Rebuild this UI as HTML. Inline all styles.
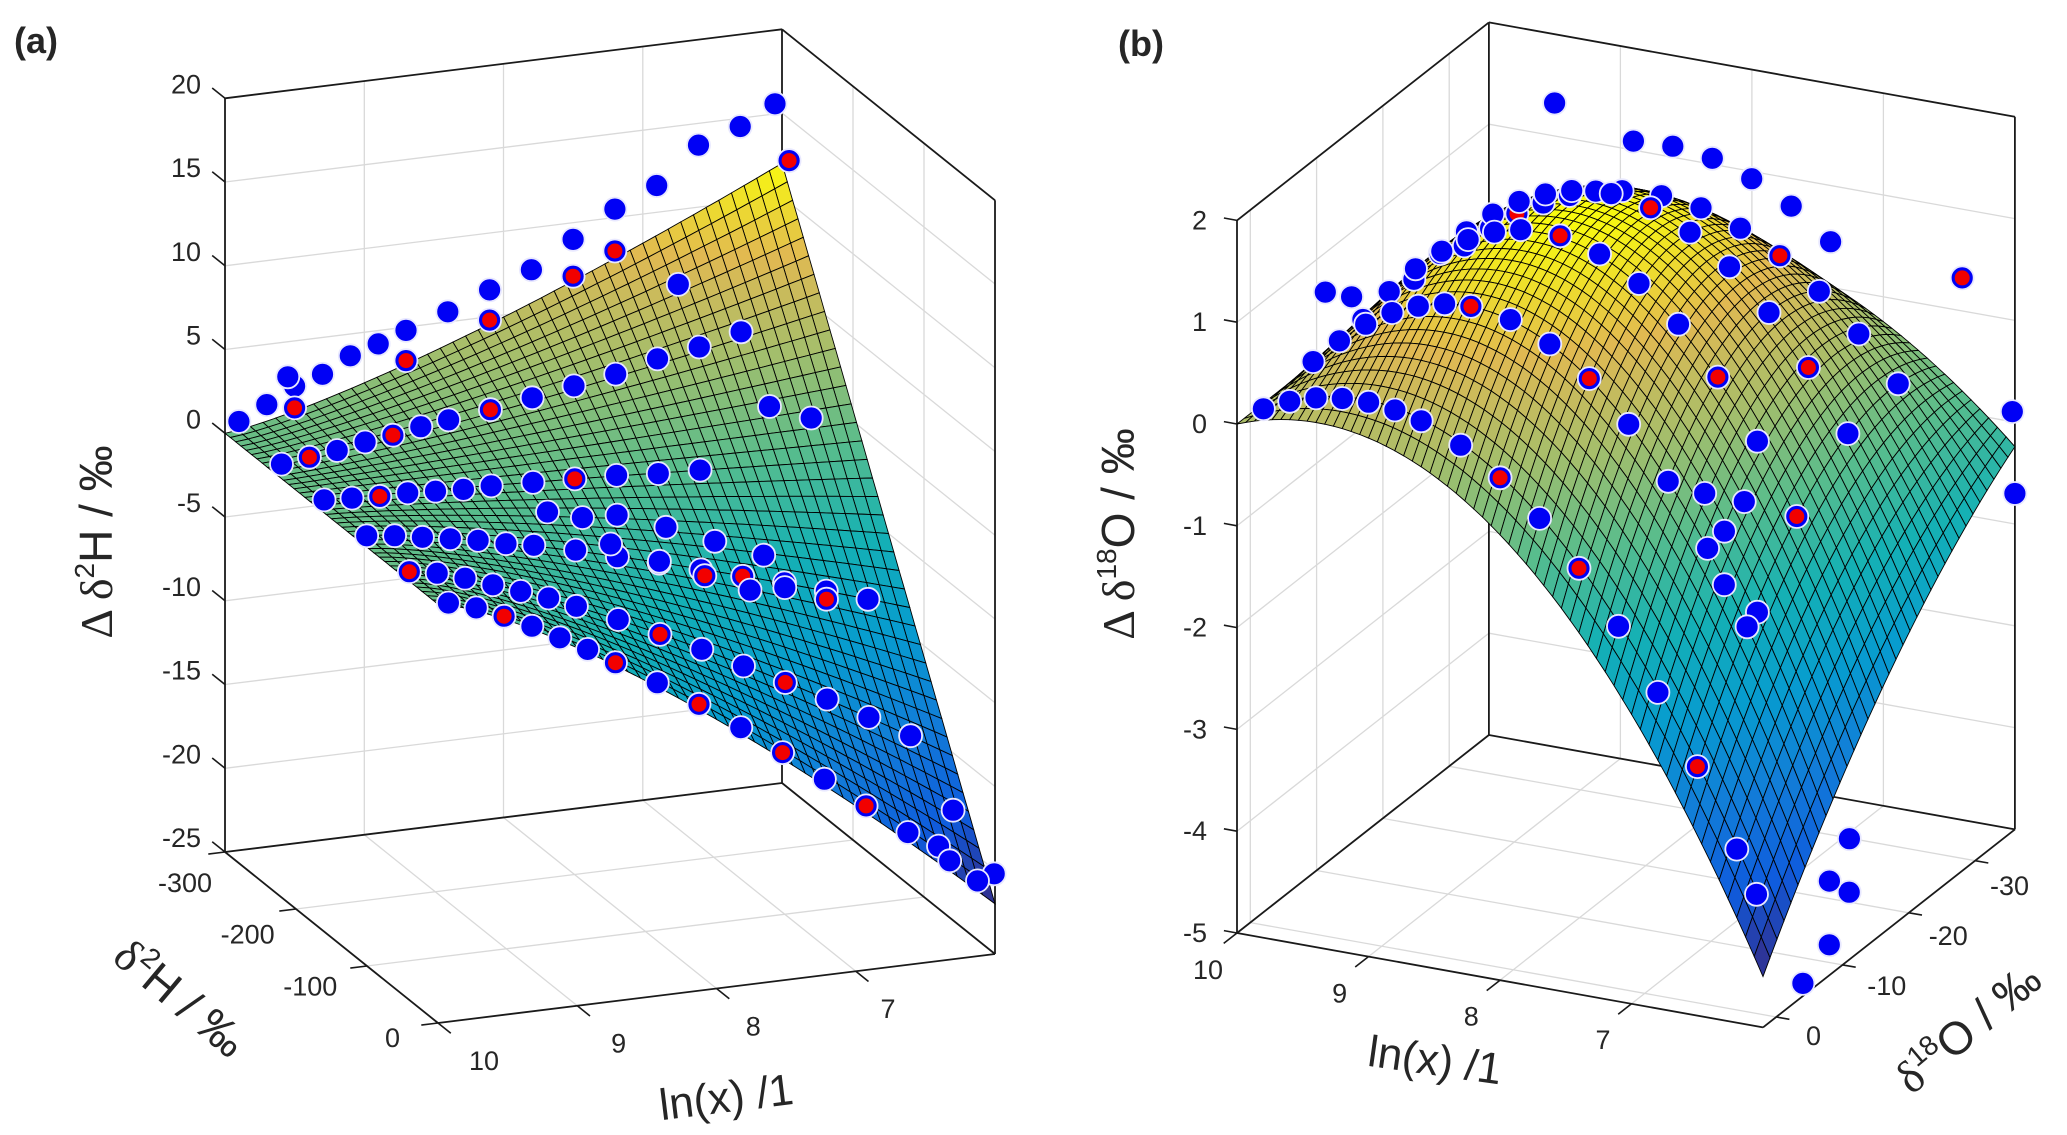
<!DOCTYPE html>
<html><head><meta charset="utf-8">
<style>
html,body{margin:0;padding:0;background:#fff;}
svg{display:block;}
text{font-family:"Liberation Sans",sans-serif;fill:#262626;}
</style></head>
<body>
<svg id="fig" width="2067" height="1135" viewBox="0 0 2067 1135" xmlns="http://www.w3.org/2000/svg">
<g id="panelA"></g>
<g id="panelB"></g>
<text x="14" y="53" font-size="36" font-weight="bold">(a)</text>
<text x="1118" y="56" font-size="36" font-weight="bold">(b)</text>
<text transform="translate(112,542) rotate(-90)" text-anchor="middle" font-size="46"><tspan font-family="Liberation Serif">Δ δ</tspan><tspan font-size="28" dy="-18">2</tspan><tspan dy="18">H / ‰</tspan></text>
<text transform="translate(170,1010) rotate(40)" text-anchor="middle" font-size="46"><tspan font-family="Liberation Serif">δ</tspan><tspan font-size="28" dy="-18">2</tspan><tspan dy="18">H / ‰</tspan></text>
<text transform="translate(728,1112) rotate(-7)" text-anchor="middle" font-size="44">ln(x) /1</text>
<text transform="translate(1134,534) rotate(-90)" text-anchor="middle" font-size="46"><tspan font-family="Liberation Serif">Δ δ</tspan><tspan font-size="28" dy="-18">18</tspan><tspan dy="18">O / ‰</tspan></text>
<text transform="translate(1433,1075) rotate(8)" text-anchor="middle" font-size="44">ln(x) /1</text>
<text transform="translate(1978,1040) rotate(-40)" text-anchor="middle" font-size="46"><tspan font-family="Liberation Serif">δ</tspan><tspan font-size="28" dy="-18">18</tspan><tspan dy="18">O / ‰</tspan></text>
</svg>
<script>
// ---------- Panel (a) data ----------
const aLnTicks=[10,9,8,7];
const aDTicks=[-300,-200,-100,0];
const aZTicks=[20,15,10,5,0,-5,-10,-15,-20,-25];
const aSurfG=[-22,12];      // surface amplitude at front (δ=0) and back (δ=-300)
const aSurfPow=[1.3];
const aLn=[9.9,9.7,9.6,9.5,9.5,9.3,9.1,8.9,8.7,8.7,8.4,8.1,8.1,7.8,7.5,7.5,7.2,7.2,6.9,6.6,6.3,6.05,6.0,
9.9,9.7,9.5,9.3,9.1,8.9,8.7,8.4,8.1,7.8,7.5,7.2,6.9,7.0,6.6,
9.9,9.7,9.5,9.3,9.1,8.9,8.7,8.4,8.1,7.8,7.5,7.2,6.6,6.3,
9.9,9.7,9.5,9.3,9.1,8.9,8.7,8.4,8.1,7.8,7.5,7.2,6.9,6.6,6.3,8.5,8.3,8.0,7.7,7.4,7.1,8.2,7.9,7.6,7.3,7.0,6.7,
9.9,9.7,9.5,9.3,9.1,8.9,8.7,8.4,8.1,7.8,7.5,7.2,6.9,6.6,6.3,6.1,
9.9,9.7,9.5,9.3,9.1,8.9,8.7,8.4,8.1,7.8,7.5,7.2,6.9,6.6,6.3,6.1,6.25,5.98];
const aD=[-300,-300,-290,-300,-300,-300,-300,-300,-300,-300,-300,-300,-300,-300,-300,-300,-300,-300,-300,-300,-300,-300,-290,
-240,-240,-240,-240,-240,-240,-240,-240,-240,-240,-240,-240,-240,-250,-240,
-180,-180,-180,-180,-180,-180,-180,-180,-180,-180,-180,-180,-200,-200,
-120,-120,-120,-120,-120,-120,-120,-120,-120,-120,-120,-120,-120,-120,-120,-140,-130,-140,-130,-120,-110,-110,-100,-95,-90,-100,-100,
-60,-60,-60,-60,-60,-60,-60,-60,-60,-60,-60,-60,-60,-60,-60,-60,
-5,-5,-5,-5,-5,-5,-5,-5,-5,-5,-5,-5,-5,-5,-5,-5,-10,-5];
const aZ=[0.6,1.4,3.3,2.3,1.0,2.8,3.7,4.2,4.8,3.0,5.6,6.6,4.8,7.5,9.0,6.8,10.5,8.0,11.6,13.7,14.5,15.6,12.5,
0.1,0.3,0.5,0.8,1.0,1.3,1.5,1.8,2.2,2.6,3.0,3.6,4.0,7.5,4.6,
0,-0.1,-0.2,-0.2,-0.3,-0.4,-0.4,-0.5,-0.6,-0.7,-0.9,-1.0,1.5,0.5,
-0.1,-0.3,-0.6,-0.9,-1.2,-1.6,-1.9,-2.5,-3.2,-3.9,-4.6,-5.3,-6.0,-6.8,-7.6,-0.8,-1.0,-1.5,-2.2,-3.0,-3.8,-2.0,-3.0,-4.0,-5.0,-5.5,-6.5,
-0.2,-0.5,-1.0,-1.6,-2.2,-2.8,-3.5,-4.6,-5.8,-7.0,-8.3,-9.6,-10.9,-12.3,-13.7,-20.5,
-0.2,-0.7,-1.4,-2.2,-3.1,-4.0,-5.0,-6.5,-8.1,-9.8,-11.6,-13.5,-15.4,-17.3,-19.3,-20.7,-16.5,-20.4];
const aRed=[0,0,0,0,1,0,0,0,0,1,0,0,1,0,0,1,0,1,0,0,0,0,1,
0,1,0,0,1,0,0,1,0,0,0,0,0,0,0,
0,0,1,0,0,0,0,0,1,0,0,0,0,0,
0,0,0,0,0,0,0,0,0,0,0,1,0,0,0,0,0,0,0,0,0,0,0,1,0,0,1,
1,0,0,0,0,0,0,0,1,0,0,1,0,0,0,0,
0,0,1,0,0,0,1,0,1,0,1,0,1,0,0,0,0,0];

// ---------- Panel (b) data ----------
const bLnTicks=[10,9,8,7];
const bDTicks=[0,-10,-20,-30];
const bZTicks=[2,1,0,-1,-2,-3,-4,-5];
const bSurfA=[2,7.47,2.42];     // linear coefficient at front, middle, back
const bSurfB=[-6.5,-9.97,-3.66]; // quadratic coefficient at front, middle, back
const bLn=[9.9,9.7,9.5,9.3,9.1,8.9,8.7,8.4,8.1,7.8,7.5,7.2,6.9,6.6,6.3,6.15,
9.9,9.7,9.5,9.3,9.1,8.9,8.7,8.4,8.1,7.8,7.5,7.2,6.9,6.6,
9.9,9.7,9.5,9.3,9.1,8.9,8.7,8.4,8.1,7.8,7.5,7.2,6.9,6.6,
9.9,9.7,9.5,9.3,9.1,8.9,8.7,8.4,8.1,7.8,7.5,7.2,6.9,6.6,
9.9,9.7,9.5,9.3,9.1,8.9,8.7,8.4,8.1,7.8,7.5,7.2,6.9,6.6,
8.7,8.4,8.1,7.8,7.5,7.2,
9.4,9.53,9.33,6.0,6.02,6.3,6.1,6.05,6.15,6.0,6.1,7.0,7.1,7.05,7.2,6.9];
const bD=[0,0,0,0,0,0,0,0,0,0,0,0,0,0,0,0,
-7.5,-7.5,-7.5,-7.5,-7.5,-7.5,-7.5,-7.5,-7.5,-7.5,-7.5,-7.5,-7.5,-7.5,
-15,-15,-15,-15,-15,-15,-15,-15,-15,-15,-15,-15,-15,-15,
-22.7,-22.7,-22.7,-22.7,-22.7,-22.7,-22.7,-22.7,-22.7,-22.7,-22.7,-22.7,-22.7,-22.7,
-30.3,-30.3,-30.3,-30.3,-30.3,-30.3,-30.3,-30.3,-30.3,-30.3,-30.3,-30.3,-30.3,-30.3,
-32,-32,-32,-32,-32,-32,
-34,-2,-2,-36,-36,-34,-10,-12,-14,-8,-6,-12,-14,-16,-13,-15];
const bZ=[0.07,0.19,0.27,0.31,0.32,0.29,0.23,0.06,-0.19,-0.52,-0.94,-1.44,-2.02,-2.68,-3.42,-3.83,
0.15,0.40,0.61,0.77,0.88,0.95,0.97,0.91,0.74,0.47,0.09,-0.40,-0.99,-1.69,
0.18,0.50,0.77,0.99,1.15,1.27,1.34,1.35,1.24,1.02,0.69,0.24,-0.32,-0.99,
0.18,0.48,0.74,0.96,1.13,1.25,1.33,1.37,1.30,1.13,0.86,0.48,0.01,-0.57,
0.12,0.34,0.53,0.68,0.80,0.89,0.94,0.96,0.91,0.78,0.58,0.30,-0.05,-0.47,
1.34,1.36,1.31,1.18,0.98,0.70,
1.45,1.2,1.2,-1.7,-0.9,0.45,-4.2,-4.4,-4.0,-4.7,-5.0,-1.6,-1.2,-1.0,-0.8,-2.0];
const bRed=[0,0,0,0,0,0,0,0,1,0,1,0,0,1,0,0,
0,0,0,0,0,0,1,0,0,1,0,0,0,0,
0,0,0,0,0,0,0,1,0,0,0,1,0,1,
0,0,0,0,0,0,0,0,1,0,0,0,1,0,
0,0,1,0,0,0,0,0,0,0,1,0,0,0,
0,0,0,0,0,0,
0,0,0,0,0,1,0,0,0,0,0,0,0,0,0,0];

const NS="http://www.w3.org/2000/svg";
function mk(parent,tag,attrs){const e=document.createElementNS(NS,tag);for(const k in attrs)e.setAttribute(k,attrs[k]);parent.appendChild(e);return e;}
const PAR=[[0,53,42,135],[0.125,15,92,221],[0.25,18,125,216],[0.375,7,156,207],[0.5,21,177,180],[0.625,89,189,140],[0.75,165,190,107],[0.875,225,185,82],[1,249,251,14]];
function parula(v){v=Math.max(0,Math.min(1,v));for(let i=1;i<PAR.length;i++){if(v<=PAR[i][0]){const a=PAR[i-1],b=PAR[i],f=(v-a[0])/(b[0]-a[0]);return `rgb(${Math.round(a[1]+f*(b[1]-a[1]))},${Math.round(a[2]+f*(b[2]-a[2]))},${Math.round(a[3]+f*(b[3]-a[3]))})`;}}return 'rgb(249,251,14)';}
function quad3(c,s){return c[0]*2*(s-0.5)*(s-1)+c[1]*(-4)*s*(s-1)+c[2]*2*s*(s-0.5);}

function makeProj(P){return (ln,d,z)=>[P.O[0]+(ln-P.ln0)*P.ex[0]+(d-P.d0)*P.ey[0]+(z-P.z0)*P.ez[0],P.O[1]+(ln-P.ln0)*P.ex[1]+(d-P.d0)*P.ey[1]+(z-P.z0)*P.ez[1]];}
function line(g,p,q,stroke,w,name){const l=mk(g,'line',{x1:p[0].toFixed(1),y1:p[1].toFixed(1),x2:q[0].toFixed(1),y2:q[1].toFixed(1),stroke:stroke,'stroke-width':w});


return l;}

function drawPanel(gid,P){
  const g=document.getElementById(gid);
  const pr=makeProj(P);
  const [l0,l1]=P.lnR,[d0,d1]=P.dR,[z0,z1]=P.zR;
  const GC='#d9d9d9';
  P.walls.forEach(w=>{
    if(w.type==='d'){
      P.zT.forEach(z=>line(g,pr(l0,w.v,z),pr(l1,w.v,z),GC,1.3,'grid-line'));
      P.lnT.forEach(ln=>line(g,pr(ln,w.v,z0),pr(ln,w.v,z1),GC,1.3,'grid-line'));
    } else {
      P.zT.forEach(z=>line(g,pr(w.v,d0,z),pr(w.v,d1,z),GC,1.3,'grid-line'));
      P.dT.forEach(d=>line(g,pr(w.v,d,z0),pr(w.v,d,z1),GC,1.3,'grid-line'));
    }
  });
  P.lnT.forEach(ln=>line(g,pr(ln,d0,z0),pr(ln,d1,z0),GC,1.3,'floor-grid-line'));
  P.dT.forEach(d=>line(g,pr(l0,d,z0),pr(l1,d,z0),GC,1.3,'floor-grid-line'));
  P.box.forEach(b=>line(g,pr(...b[0]),pr(...b[1]),'#1a1a1a',1.8,'axis-box-edge'));
  const NL=P.nLn,ND=P.nD,pts=[],zs=[];
  for(let i=0;i<=NL;i++){pts.push([]);zs.push([]);for(let j=0;j<=ND;j++){const ln=l0+(l1-l0)*i/NL,d=d0+(d1-d0)*j/ND,z=P.surf(ln,d);zs[i].push(z);pts[i].push(pr(ln,d,z));}}
  let zmin=1e9,zmax=-1e9;zs.forEach(r=>r.forEach(v=>{zmin=Math.min(zmin,v);zmax=Math.max(zmax,v);}));
  const ref=(()=>{const a=pr(l0,d0,0),b=pr(l1,d0,0),c=pr(l0,d1,0);return Math.sign((b[0]-a[0])*(c[1]-a[1])-(b[1]-a[1])*(c[0]-a[0]));})();
  const quads=[];
  for(let i=0;i<NL;i++)for(let j=0;j<ND;j++){
    const t=(i+0.5)/NL,s=(j+0.5)/ND;quads.push({i,j,k:P.depth(t,s)});}
  quads.sort((a,b)=>b.k-a.k);
  const sg=mk(g,'g',{});
  
  
  quads.forEach(q=>{const {i,j}=q;const a=pts[i][j],b=pts[i+1][j],c=pts[i+1][j+1],d=pts[i][j+1];
    const cr=Math.sign((b[0]-a[0])*(d[1]-a[1])-(b[1]-a[1])*(d[0]-a[0]));
    const zm=(zs[i][j]+zs[i+1][j]+zs[i+1][j+1]+zs[i][j+1])/4;
    const fill=cr!==ref?'#111':parula((zm-zmin)/(zmax-zmin));
    const p=mk(sg,'polygon',{points:[a,b,c,d].map(v=>v[0].toFixed(1)+','+v[1].toFixed(1)).join(' '),fill:fill,stroke:'#000','stroke-width':0.9});
    
    
  });
  const idx=P.ln.map((_,k)=>k);
  idx.sort((a,b)=>P.depth((P.ln[b]-l0)/(l1-l0),(P.d[b]-d0)/(d1-d0))-P.depth((P.ln[a]-l0)/(l1-l0),(P.d[a]-d0)/(d1-d0)));
  const pg=mk(g,'g',{});
  
  
  idx.forEach(k=>{const p=pr(P.ln[k],P.d[k],P.z[k]);
    const c=mk(pg,'circle',{cx:p[0].toFixed(1),cy:p[1].toFixed(1),r:11.5,fill:'#0000f5',stroke:'#e8e8ff','stroke-width':1.8});
    
    
    if(P.red[k]){const r=mk(pg,'circle',{cx:p[0].toFixed(1),cy:p[1].toFixed(1),r:7.5,fill:'#f20000'});
      
      }
  });
  P.zT.forEach(z=>{const a=pr(P.zAxis[0],P.zAxis[1],z),b=pr(P.zTick[0],P.zTick[1],z);line(g,a,b,'#1a1a1a',1.6,'z-tick');
    const t=mk(g,'text',{x:(a[0]+P.zLab[0]).toFixed(1),y:(a[1]+P.zLab[1]).toFixed(1),'text-anchor':'end','font-size':27,'dominant-baseline':'central'});t.textContent=z;
    
    });
  P.lnT.forEach(ln=>{const a=pr(ln,P.lnAxisD,z0),b=pr(ln,P.lnTickD,z0);line(g,a,b,'#1a1a1a',1.6,'ln-tick');
    const f=(ln-P.lnLab.v0)/(P.lnLab.v1-P.lnLab.v0);
    const t=mk(g,'text',{x:(P.lnLab.p0[0]+f*(P.lnLab.p1[0]-P.lnLab.p0[0])).toFixed(1),y:(P.lnLab.p0[1]+f*(P.lnLab.p1[1]-P.lnLab.p0[1])).toFixed(1),'text-anchor':'middle','font-size':27,'dominant-baseline':'central'});t.textContent=ln;
    
    });
  P.dT.forEach(d=>{const a=pr(P.dAxisLn,d,z0),b=pr(P.dTickLn,d,z0);line(g,a,b,'#1a1a1a',1.6,'delta-tick');
    const f=(d-P.dLab.v0)/(P.dLab.v1-P.dLab.v0);
    const t=mk(g,'text',{x:(P.dLab.p0[0]+f*(P.dLab.p1[0]-P.dLab.p0[0])).toFixed(1),y:(P.dLab.p0[1]+f*(P.dLab.p1[1]-P.dLab.p0[1])).toFixed(1),'text-anchor':P.dLab.anchor,'font-size':27,'dominant-baseline':'central'});t.textContent=d;
    
    });
}

drawPanel('panelA',{
  O:[438,1023],ln0:10,d0:0,z0:-25,ex:[-139.25,17.25],ey:[0.71,0.57],ez:[0,-16.75],
  lnR:[10,6],dR:[0,-300],zR:[-25,20],lnT:aLnTicks,dT:aDTicks,zT:aZTicks,
  walls:[{type:'d',v:-300},{type:'l',v:6}],
  box:[[[10,-300,-25],[10,-300,20]],[[10,-300,20],[6,-300,20]],[[6,-300,20],[6,0,20]],[[6,0,-25],[6,0,20]],
       [[10,0,-25],[6,0,-25]],[[10,0,-25],[10,-300,-25]],[[6,-300,-25],[6,-300,20]],[[10,-300,-25],[6,-300,-25]],[[6,-300,-25],[6,0,-25]]],
  nLn:44,nD:40,
  surf:(ln,d)=>{const t=(10-ln)/4,s=-d/300;return (aSurfG[0]+(aSurfG[1]-aSurfG[0])*s)*Math.pow(Math.max(t,0),aSurfPow[0]);},
  depth:(t,s)=>t+s,
  ln:aLn,d:aD,z:aZ,red:aRed,
  zAxis:[10,-300],zTick:[10,-318],zLab:[-24,-14],
  lnAxisD:0,lnTickD:18,lnLab:{v0:10,v1:7,p0:[484,1061],p1:[888,1009]},
  dAxisLn:10,dTickLn:10.12,dLab:{v0:-300,v1:0,p0:[212,883],p1:[400,1038],anchor:'end'}
});
drawPanel('panelB',{
  O:[1237,933],ln0:10,d0:2,z0:-5,ex:[-131.5,-23.6],ey:[-6.63,5.21],ez:[0,-101.8],
  lnR:[10,6],dR:[2,-36],zR:[-5,2],lnT:bLnTicks,dT:bDTicks,zT:bZTicks,
  walls:[{type:'l',v:10},{type:'d',v:-36}],
  box:[[[10,2,-5],[10,2,2]],[[6,-36,-5],[6,-36,2]],[[10,-36,-5],[10,-36,2]],[[10,2,2],[10,-36,2]],[[10,-36,2],[6,-36,2]],
       [[10,2,-5],[6,2,-5]],[[6,2,-5],[6,-36,-5]],[[10,2,-5],[10,-36,-5]],[[10,-36,-5],[6,-36,-5]]],
  nLn:60,nD:36,
  surf:(ln,d)=>{const t=(10-ln)/4,s=(2-d)/38;return quad3(bSurfA,s)*t+quad3(bSurfB,s)*t*t;},
  depth:(t,s)=>s+(1-t),
  ln:bLn,d:bD,z:bZ,red:bRed,
  zAxis:[10,2],zTick:[10.1,2],zLab:[-30,0],
  lnAxisD:2,lnTickD:4,lnLab:{v0:10,v1:7,p0:[1208,970],p1:[1603,1040]},
  dAxisLn:6,dTickLn:5.9,dLab:{v0:0,v1:-30,p0:[1806,1036],p1:[1990,886],anchor:'start'}
});
</script>
</body></html>
